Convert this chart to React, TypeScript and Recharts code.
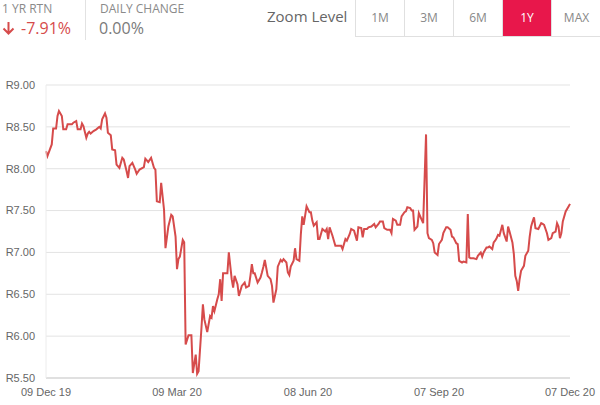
import { LineChart, Line, XAxis, YAxis, CartesianGrid } from "recharts";

// days since 09 Dec 2019
const dayOffsets = [
  0, 1, 4, 5, 7, 8, 9, 11, 12, 14, 15, 18, 19, 21, 22, 24, 25, 26, 28, 29,
  30, 31, 33, 35, 37, 38, 39, 41, 42, 43, 45, 46, 48, 49, 51, 53, 54, 56, 57, 58,
  60, 62, 63, 65, 68, 69, 71, 73, 75, 76, 77, 79, 80, 82, 83, 85, 87, 88, 90, 91,
  92, 93, 95, 96, 97, 99, 101, 102, 104, 105, 106, 108, 109, 110, 112, 114, 115, 116, 117, 119,
  120, 121, 122, 123, 126, 127, 129, 130, 131, 133, 134, 136, 138, 139, 141, 142, 143, 144, 145, 147,
  149, 150, 151, 152, 154, 156, 157, 158, 160, 161, 163, 164, 165, 167, 168, 169, 170, 172, 173, 174,
  176, 177, 178, 179, 181, 183, 184, 185, 186, 188, 189, 190, 192, 194, 195, 196, 197, 199, 200, 201,
  203, 205, 206, 208, 209, 211, 212, 214, 216, 217, 219, 220, 221, 223, 224, 226, 228, 229, 231, 232,
  234, 235, 237, 239, 240, 241, 243, 244, 246, 247, 249, 250, 251, 253, 254, 255, 256, 258, 259, 261,
  262, 264, 265, 266, 268, 269, 270, 272, 273, 275, 276, 278, 279, 281, 282, 283, 285, 286, 287, 289,
  290, 292, 293, 294, 295, 297, 299, 300, 302, 303, 304, 306, 307, 308, 310, 311, 312, 313, 314, 315,
  317, 318, 320, 321, 322, 324, 325, 326, 327, 328, 329, 330, 332, 333, 335, 336, 337, 338, 339, 340,
  342, 344, 345, 346, 348, 349, 351, 352, 354, 355, 356, 357, 358, 359, 361, 363, 364,
];

const prices = [
  8.21, 8.15, 8.29, 8.48, 8.48, 8.63, 8.69, 8.63, 8.47, 8.47, 8.53, 8.53, 8.55, 8.57, 8.47, 8.47, 8.54, 8.51, 8.37, 8.42,
  8.44, 8.42, 8.45, 8.47, 8.5, 8.48, 8.59, 8.66, 8.61, 8.43, 8.4, 8.23, 8.22, 8.05, 8.01, 8.13, 8.11, 7.97, 7.89, 8.03,
  8.07, 7.99, 7.94, 7.99, 8.02, 8.12, 8.08, 8.13, 8.01, 7.99, 7.61, 7.6, 7.83, 7.51, 7.05, 7.31, 7.45, 7.43, 7.19, 6.8,
  6.92, 6.95, 7.15, 7.12, 5.9, 6.01, 6.01, 5.56, 5.78, 5.55, 5.58, 6.1, 6.38, 6.2, 6.05, 6.24, 6.22, 6.36, 6.3, 6.44,
  6.5, 6.68, 6.42, 6.75, 6.75, 7.0, 6.68, 6.58, 6.72, 6.62, 6.48, 6.6, 6.64, 6.58, 6.6, 6.72, 6.86, 6.75, 6.75, 6.64,
  6.7, 6.76, 6.83, 6.91, 6.72, 6.68, 6.6, 6.4, 6.56, 6.83, 6.91, 6.89, 6.92, 6.88, 6.76, 6.73, 6.83, 6.9, 7.05, 6.92,
  6.9, 7.21, 7.43, 7.33, 7.55, 7.48, 7.48, 7.38, 7.32, 7.36, 7.16, 7.16, 7.28, 7.25, 7.28, 7.16, 7.3, 7.2, 7.14, 7.08,
  7.08, 7.08, 7.04, 7.16, 7.14, 7.22, 7.28, 7.26, 7.14, 7.3, 7.29, 7.18, 7.28, 7.28, 7.3, 7.31, 7.34, 7.3, 7.34, 7.37,
  7.37, 7.29, 7.27, 7.27, 7.23, 7.4, 7.38, 7.33, 7.33, 7.43, 7.48, 7.49, 7.54, 7.53, 7.5, 7.5, 7.27, 7.31, 7.47, 7.39,
  7.35, 8.41, 7.23, 7.17, 7.15, 7.11, 7.0, 6.97, 7.1, 7.15, 7.23, 7.3, 7.3, 7.27, 7.19, 7.18, 7.11, 7.1, 6.9, 6.88,
  6.89, 6.88, 7.46, 6.94, 6.93, 6.93, 6.92, 6.96, 7.0, 6.95, 7.0, 7.06, 7.06, 7.07, 7.04, 7.12, 7.14, 7.17, 7.21, 7.2,
  7.33, 7.23, 7.13, 7.31, 7.25, 7.12, 6.98, 6.72, 6.66, 6.54, 6.68, 6.78, 6.84, 6.96, 7.02, 7.19, 7.31, 7.37, 7.42, 7.29,
  7.28, 7.35, 7.34, 7.33, 7.23, 7.15, 7.17, 7.23, 7.25, 7.35, 7.31, 7.17, 7.23, 7.37, 7.49, 7.55, 7.58,
];

const xTickDays = [0, 91, 182, 273, 364];
const xTickLabels = ["09 Dec 19", "09 Mar 20", "08 Jun 20", "07 Sep 20", "07 Dec 20"];
const yTicks = [5.5, 6, 6.5, 7, 7.5, 8, 8.5, 9];
const zoomLevels = ["1M", "3M", "6M", "1Y", "MAX"];

const data = dayOffsets.map((d, i) => ({ day: d, price: prices[i] }));

const RED = "#d64b4b";
const GRAY = "#8a8a8a";
const AXIS_FONT = "'Liberation Sans', Arial, sans-serif";

function Header() {
  return (
    <div style={{ position: "absolute", left: 0, top: 0, width: 600, height: 45, fontFamily: "'Open Sans', sans-serif" }}>
      <div style={{ position: "absolute", left: 2, top: 0, fontSize: 12, color: GRAY }}>1 YR RTN</div>
      <div style={{ position: "absolute", left: 2, top: 17, fontSize: 16, color: RED, display: "flex", alignItems: "center" }}>
        <svg width={13} height={14} viewBox="0 0 13 14" style={{ marginRight: 6 }}>
          <path d="M6.5 1 V12 M1.5 7.5 L6.5 12.5 L11.5 7.5" stroke={RED} strokeWidth={2} fill="none" />
        </svg>
        -7.91%
      </div>
      <div style={{ position: "absolute", left: 85, top: 0, width: 1, height: 40, background: "#e2e2e2" }} />
      <div style={{ position: "absolute", left: 100, top: 0, fontSize: 12, color: GRAY }}>DAILY CHANGE</div>
      <div style={{ position: "absolute", left: 99, top: 17, fontSize: 16, color: "#7a7a7a" }}>0.00%</div>
      <div style={{ position: "absolute", left: 267, top: 6, fontSize: 15, color: "#666" }}>Zoom Level</div>
      <div style={{ position: "absolute", left: 355, top: -1, display: "flex", border: "1px solid #e0e0e0" }}>
        {zoomLevels.map((z, i) => (
          <div
            key={z}
            style={{
              width: i === 4 ? 49 : 48,
              height: 36,
              lineHeight: "36px",
              textAlign: "center",
              fontSize: 12,
              color: z === "1Y" ? "#fff" : "#888",
              background: z === "1Y" ? "#e8174b" : "#fff",
              borderLeft: i === 0 ? "none" : "1px solid #e0e0e0",
            }}
          >
            {z}
          </div>
        ))}
      </div>
    </div>
  );
}

export default function App() {
  return (
    <div style={{ position: "fixed", left: 0, top: 0, width: 600, height: 405, background: "#fff", overflow: "hidden" }}>
      <Header />
      <div style={{ position: "absolute", left: 0, top: 0 }}>
        <LineChart width={600} height={405} data={data} margin={{ top: 85, right: 30, bottom: 0, left: 0 }}>
          <CartesianGrid vertical={false} stroke="#e3e3e3" />
          <XAxis
            dataKey="day"
            type="number"
            domain={[0, 364]}
            ticks={xTickDays}
            tickFormatter={(v: number) => xTickLabels[xTickDays.indexOf(v)] ?? ""}
            tick={{ fill: "#666", fontSize: 11, fontFamily: AXIS_FONT }}
            axisLine={{ stroke: "#cfcfcf" }}
            tickLine={false}
            tickSize={0}
            tickMargin={10}
            height={27}
            interval={0}
          />
          <YAxis
            type="number"
            domain={[5.5, 9]}
            ticks={yTicks}
            tickFormatter={(v: number) => "R" + v.toFixed(2)}
            tick={{ fill: "#666", fontSize: 11, fontFamily: AXIS_FONT }}
            axisLine={{ stroke: "#ececec" }}
            tickLine={false}
            tickSize={0}
            tickMargin={11}
            width={46}
            interval={0}
          />
          <Line
            type="linear"
            dataKey="price"
            stroke={RED}
            strokeWidth={2}
            dot={false}
            isAnimationActive={false}
          />
        </LineChart>
      </div>
    </div>
  );
}
